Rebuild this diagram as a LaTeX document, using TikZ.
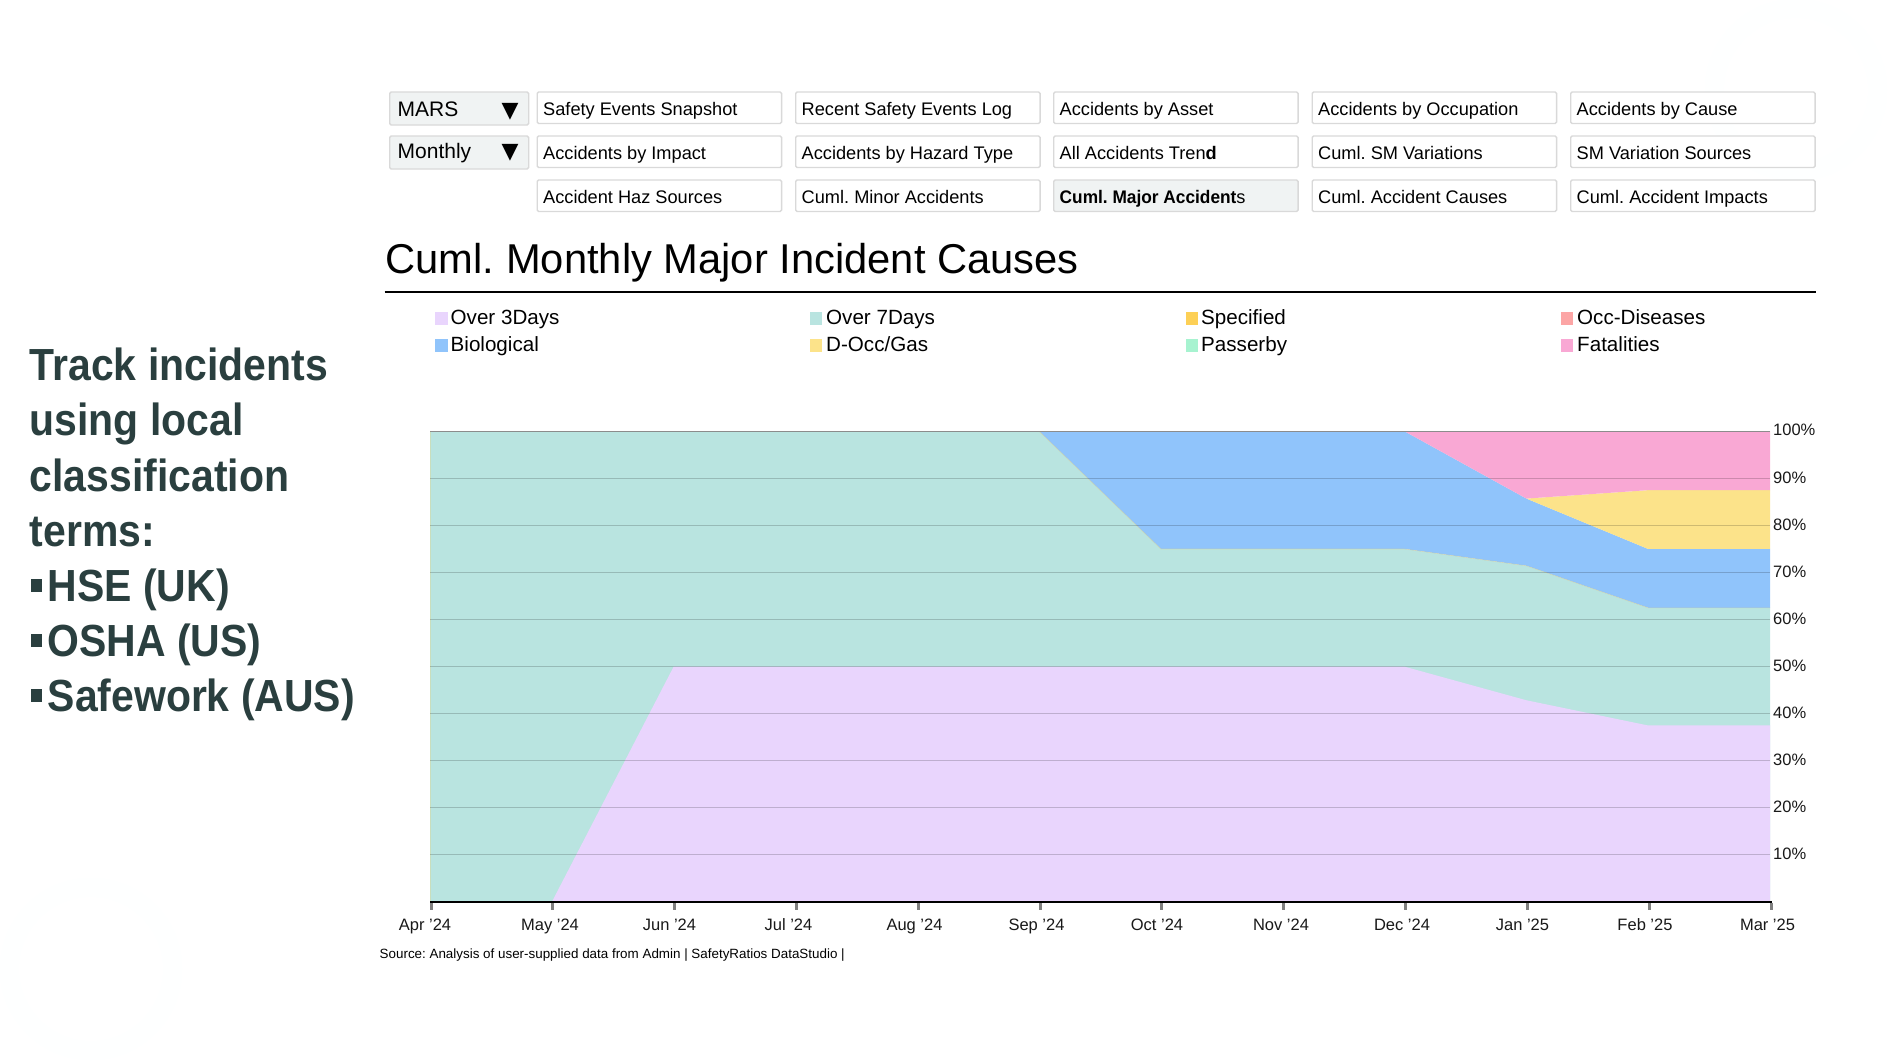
\documentclass[tikz,border=0pt]{standalone}
\usepackage{fontspec}
\setmainfont{Liberation Sans}
\newfontfamily\symfont{DejaVu Sans}
\definecolor{txtdark}{HTML}{2A3F3F}
\definecolor{btnedge}{HTML}{D9D9D9}
\definecolor{btnact}{HTML}{F0F3F3}
\definecolor{cThree}{HTML}{E9D5FD}
\definecolor{cSeven}{HTML}{B9E4E0}
\definecolor{cSpec}{HTML}{FDD056}
\definecolor{cOcc}{HTML}{FCA5A5}
\definecolor{cBio}{HTML}{90C4FB}
\definecolor{cGas}{HTML}{FCE38A}
\definecolor{cPass}{HTML}{A7F3D0}
\definecolor{cFat}{HTML}{F9A8D4}
\newcommand{\fs}[1]{\fontsize{#1}{#1}\selectfont}
\frenchspacing
\tikzset{
 x=1pt,y=-1pt,
 btn/.style={anchor=base west,draw=btnedge,fill=white,line width=1.4pt,rounded corners=1.5pt,
   inner xsep=6pt,inner ysep=0pt,text height=23pt,text depth=8.5pt,font=\fs{18.2}},
 active/.style={fill=btnact},
 drop/.style={anchor=base west,draw=btnedge,fill=btnact,line width=1.4pt,rounded corners=1.5pt,
   inner xsep=8pt,inner ysep=0pt,font=\fs{21}},
 swatch/.style={draw=none,inner sep=0pt,minimum width=12.5pt,minimum height=13pt},
 legtext/.style={anchor=base west,inner sep=0pt,font=\fs{20.6}},
 xlab/.style={anchor=base,inner sep=0pt,font=\fs{16.5},text=black!90},
 ylab/.style={anchor=west,inner sep=0pt,font=\fs{16.5},text=black!90},
 gridln/.style={draw=black,opacity=.18,line width=1pt},
 tickmark/.style={draw=black!50,line width=3pt},
 sidetxt/.style={anchor=base west,inner sep=0pt,text=txtdark},
 sidesq/.style={fill=txtdark,draw=none,inner sep=0pt,minimum width=11.5pt,minimum height=13pt}
}
\newcommand{\btnbox}[6][]{\node[btn,#1] (#2) at (#3,#4) {\makebox[232.4pt][l]{#6}};}
\begin{document}
\begin{tikzpicture}
\useasboundingbox (0,0) rectangle (1888,1061);
\fill[white] (0,0) rectangle (1888,1061);
% faint decorations
\fill[white!99!cSeven] (91,969) circle (91);
\fill[white] (91,969) circle (72);
\fill[white!99!cSeven] (1796,90) circle (91);
\fill[white] (1796,90) circle (72);
% buttons
\node[drop] (mars) at (389,116) {\makebox[123pt][l]{MARS}\rule[-9pt]{0pt}{33pt}};
\node[drop] (monthly) at (389,158) {\makebox[123pt][l]{Monthly}\rule[-11pt]{0pt}{33pt}};
\node[anchor=center,inner sep=0pt,font=\symfont\fs{22}] (arr1) at (510,112) {▼};
\node[anchor=center,inner sep=0pt,font=\symfont\fs{22}] (arr2) at (510,153) {▼};
\btnbox{b11}{536.5}{115}{}{Safety Events Snapshot}
\btnbox{b12}{795}{115}{}{Recent Safety Events Log}
\btnbox{b13}{1053}{115}{}{Accidents by Asset}
\btnbox{b14}{1311.5}{115}{}{Accidents by Occupation}
\btnbox{b15}{1570}{115}{}{Accidents by Cause}
\btnbox{b21}{536.5}{159}{}{Accidents by Impact}
\btnbox{b22}{795}{159}{}{Accidents by Hazard Type}
\btnbox{b23}{1053}{159}{}{All Accidents Tren\textbf{d}}
\btnbox{b24}{1311.5}{159}{}{Cuml. SM Variations}
\btnbox{b25}{1570}{159}{}{SM Variation Sources}
\btnbox{b31}{536.5}{203}{}{Accident Haz Sources}
\btnbox{b32}{795}{203}{}{Cuml. Minor Accidents}
\btnbox[active]{b33}{1053}{203}{}{\scalebox{.95}[1]{\textbf{Cuml. Major Accident}}s}
\btnbox{b34}{1311.5}{203}{}{Cuml. Accident Causes}
\btnbox{b35}{1570}{203}{}{Cuml. Accident Impacts}
% title
\node[anchor=base west,inner sep=0pt,font=\fs{41.7}] (title) at (385.5,273.2) {Cuml. Monthly Major Incident Causes};
\draw[line width=2pt] (384.5,292) -- (1816,292);
% legend
\node[swatch,fill=cThree] (s1) at (441.5,318.5) {};
\node[swatch,fill=cSeven] (s2) at (816,318.5) {};
\node[swatch,fill=cSpec] (s3) at (1192,318.5) {};
\node[swatch,fill=cOcc] (s4) at (1567,318.5) {};
\node[swatch,fill=cBio] (s5) at (441.5,345.5) {};
\node[swatch,fill=cGas] (s6) at (816,345.5) {};
\node[swatch,fill=cPass] (s7) at (1192,345.5) {};
\node[swatch,fill=cFat] (s8) at (1567,345.5) {};
\node[legtext] (l1) at (450.5,324.5) {Over 3Days};
\node[legtext] (l2) at (826,324.5) {Over 7Days};
\node[legtext] (l3) at (1201,324.5) {Specified};
\node[legtext] (l4) at (1577,324.5) {Occ-Diseases};
\node[legtext] (l5) at (450.5,351.5) {Biological};
\node[legtext] (l6) at (826,351.5) {D-Occ/Gas};
\node[legtext] (l7) at (1201,351.5) {Passerby};
\node[legtext] (l8) at (1577,351.5) {Fatalities};
% chart: x(i)=430+121.82 i ; y(v)=902-4.707 v
\newcommand{\pt}[2]{({430+121.82*#1},{902-4.707*#2})}
\fill[cSeven] \pt{0}{0} -- \pt{0}{100} -- \pt{5}{100} -- \pt{6}{75} -- \pt{8}{75} -- \pt{9}{71.43} -- \pt{10}{62.5} -- \pt{11}{62.5} -- \pt{11}{0} -- cycle;
\fill[cThree] \pt{1}{0} -- \pt{2}{50} -- \pt{8}{50} -- \pt{9}{42.86} -- \pt{10}{37.5} -- \pt{11}{37.5} -- \pt{11}{0} -- cycle;
\fill[cBio] \pt{5}{100} -- \pt{8}{100} -- \pt{9}{85.71} -- \pt{10}{75} -- \pt{11}{75} -- \pt{11}{62.5} -- \pt{10}{62.5} -- \pt{9}{71.43} -- \pt{8}{75} -- \pt{6}{75} -- cycle;
\fill[cGas] \pt{9}{85.71} -- \pt{10}{87.5} -- \pt{11}{87.5} -- \pt{11}{75} -- \pt{10}{75} -- cycle;
\fill[cFat] \pt{8}{100} -- \pt{11}{100} -- \pt{11}{87.5} -- \pt{10}{87.5} -- \pt{9}{85.71} -- cycle;
\draw[cSpec,opacity=.25,line width=.6pt] \pt{0}{0} -- \pt{0}{100};
\draw[cSpec,opacity=.35,line width=.6pt] \pt{5}{100} -- \pt{6}{75} -- \pt{8}{75} -- \pt{9}{71.43} -- \pt{10}{62.5} -- \pt{11}{62.5};
\foreach \v in {10,20,...,90} {\draw[gridln] (430,{902-4.707*\v}) -- (1770,{902-4.707*\v});}
\draw[draw=black!45,line width=1pt] (430,431.3) -- (1770,431.3);
\foreach \v in {10,20,...,100} {
  \node[ylab] (y\v) at (1773,{901-4.707*\v}) {\v\%};
}
\foreach \i in {0,...,11} {\draw[tickmark] ({431+121.82*\i},902.5) -- ({431+121.82*\i},910);}
\draw[line width=1.5pt] (430,902) -- (1772,902);
\foreach \n/\cx/\t in {a/425/{Apr '24},b/550/{May '24},c/669.5/{Jun '24},d/788.5/{Jul '24},e/914.5/{Aug '24},f/1036.5/{Sep '24},g/1157/{Oct '24},h/1281/{Nov '24},i/1402/{Dec '24},j/1522.5/{Jan '25},k/1645/{Feb '25},m/1767.5/{Mar '25}}
  {\node[xlab] (x\n) at (\cx,930) {\t};}
\node[anchor=base west,inner sep=0pt,font=\fs{13.4}] (src) at (379.5,958.8) {Source: Analysis of user-supplied data from Admin | SafetyRatios DataStudio |};
% side text
\begin{scope}
\foreach \n/\yy/\t in {t1/380.7/{Track incidents},t2/435.7/{using local},t3/491/{classification},t4/546/{terms:}}
  {\node[sidetxt] (\n) at (29.5,\yy) {\scalebox{.91}[1]{\fs{45}\bfseries\t}};}
\foreach \n/\yy/\t in {t5/601/{HSE (UK)},t6/656.5/{OSHA (US)},t7/711.5/{Safework (AUS)}}
  {\node[sidetxt] (\n) at (47.5,\yy) {\scalebox{.91}[1]{\fs{45}\bfseries\t}};
   \node[sidesq] (q\n) at (36.5,{\yy-16}) {};}
\end{scope}
\end{tikzpicture}
\end{document}
